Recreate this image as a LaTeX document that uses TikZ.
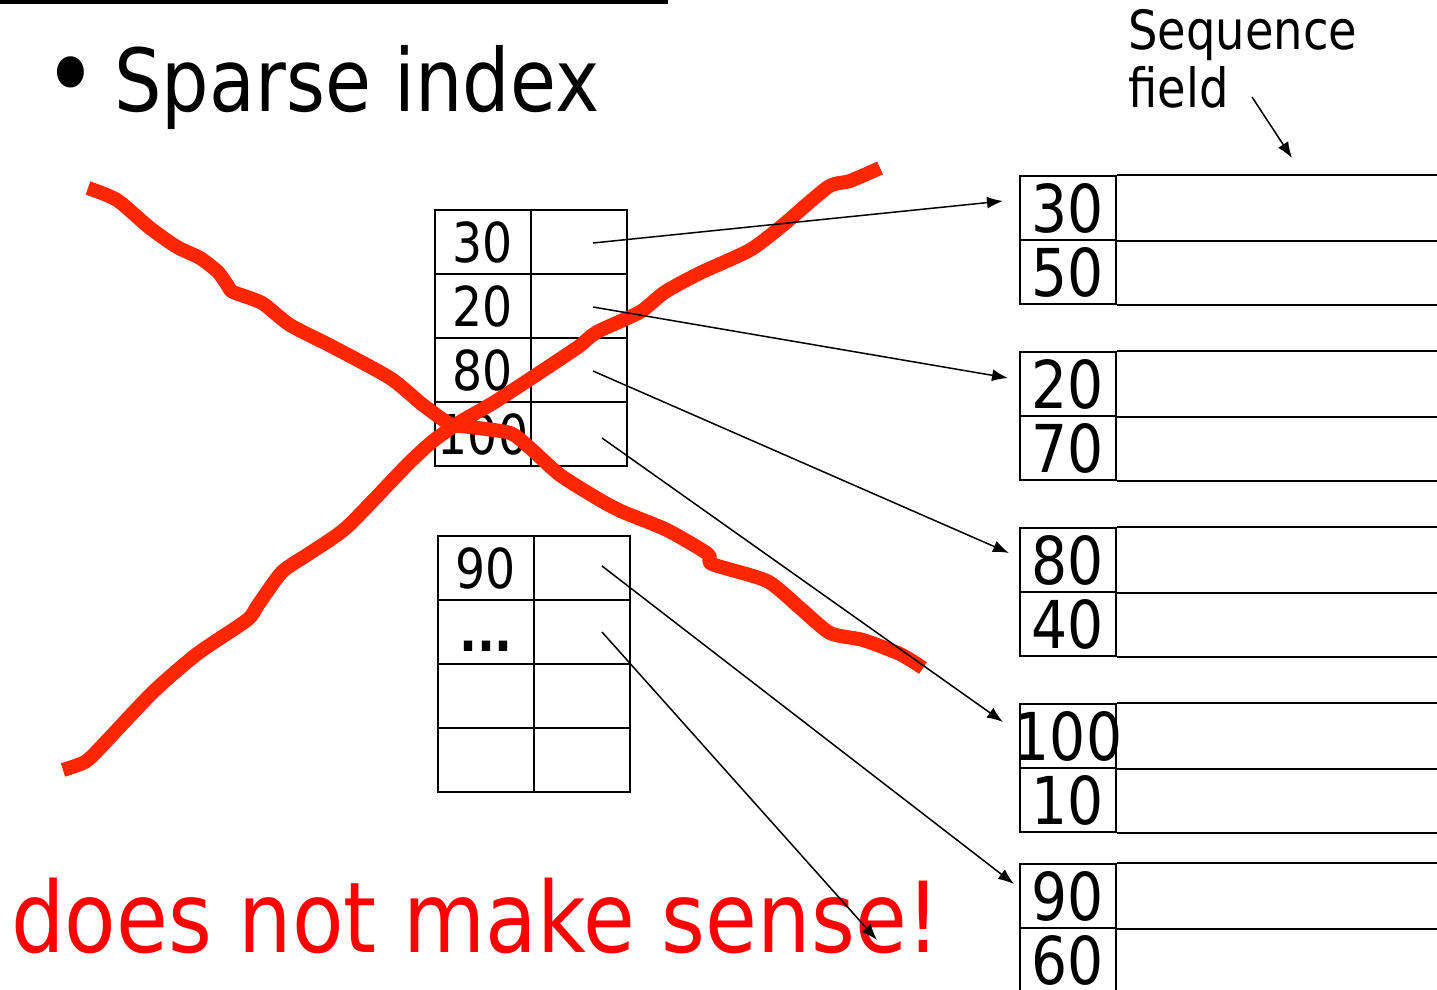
\documentclass[tikz,border=0pt]{standalone}
\usepackage{fontspec}
\setmainfont{DejaVu Sans}[FakeStretch=0.86]
\usetikzlibrary{arrows.meta}
\definecolor{xred}{RGB}{255,38,0}
\definecolor{tred}{RGB}{255,0,0}
\begin{document}
\begin{tikzpicture}[x=0.5pt,y=-0.5pt,
  idx/.style={draw, line width=1pt, minimum width=48pt, minimum height=32pt, inner sep=0pt, font=\fontsize{27.5pt}{30pt}\selectfont},
  dat/.style={draw, line width=1pt, minimum width=48pt, minimum height=32pt, inner sep=0pt, font=\fontsize{33pt}{36pt}\selectfont},
  dattext/.style={inner sep=0pt, font=\fontsize{33pt}{36pt}\selectfont},
  ptr/.style={line width=0.75pt, -{Latex[length=8pt,width=6pt]}},
  cross/.style={xred, line width=7pt, line cap=butt, line join=round},
  rowline/.style={line width=1pt},
  lbl/.style={anchor=base west, inner sep=0pt}
]
\useasboundingbox (0,0) rectangle (1437,990);

% top rule
\draw[line width=2pt] (0,2) -- (668,2);

% title
\node[inner sep=0pt, font=\fontsize{54pt}{56pt}\selectfont] (bul) at (71,85) {\textbullet};
\node[lbl, font=\fontsize{43.5pt}{46pt}\selectfont] (title) at (114,112) {Sparse index};

% sequence field label
\node[lbl, font=\fontsize{27pt}{29pt}\selectfont] (seqA) at (1128,50) {Sequence};
\node[lbl, font=\fontsize{27pt}{29pt}\selectfont] (seqB) at (1128,108) {field};
\coordinate (sfA) at (1252,97);
\coordinate (sfB) at (1292,158);

% index block 1
\node[idx] (i1a) at (483,242) {30};
\node[idx] (i1b) at (483,306) {20};
\node[idx] (i1c) at (483,370) {80};
\node[idx] (i1d) at (483,434) {100};
\node[idx] (r1a) at (579,242) {};
\node[idx] (r1b) at (579,306) {};
\node[idx] (r1c) at (579,370) {};
\node[idx] (r1d) at (579,434) {};

% index block 2
\node[idx] (i2a) at (486,568) {90};
\node[idx] (i2b) at (486,632) {};
\node[lbl, font=\fontsize{27.5pt}{30pt}\selectfont\bfseries, anchor=base] (dots) at (486,651) {...};
\node[idx] (i2c) at (486,696) {};
\node[idx] (i2d) at (486,760) {};
\node[idx] (r2a) at (581.5,568) {};
\node[idx] (r2b) at (581.5,632) {};
\node[idx] (r2c) at (581.5,696) {};
\node[idx] (r2d) at (581.5,760) {};

% data blocks
\node[dat] (d1a) at (1068,208) {30};
\node[dat] (d1b) at (1068,272) {50};
\node[dat] (d2a) at (1068,384) {20};
\node[dat] (d2b) at (1068,448) {70};
\node[dat] (d3a) at (1068,560) {80};
\node[dat] (d3b) at (1068,624) {40};
\node[dat] (d4a) at (1068,736) {};
\node[dattext] (t4a) at (d4a.center) {100};
\node[dat] (d4b) at (1068,800) {10};
\node[dat] (d5a) at (1068,896) {90};
\node[dat] (d5b) at (1068,960) {60};
\foreach \n in {d1a,d2a,d3a,d4a,d5a}{
  \draw[rowline] (\n.north east) -- +(330,0);
  \draw[rowline] (\n.south east) -- +(330,0);
}
\foreach \n in {d1b,d2b,d3b,d4b,d5b}{
  \draw[rowline] (\n.south east) -- +(330,0);
}

% red cross
\draw[cross] plot[smooth, tension=0.4] coordinates {(88,188) (117,200) (150,228) (177,247) (200,258) (218,272) (228,286) (233,292) (262,303) (290,325) (333,347) (390,378) (423,405) (450,424) (470,427) (510,433) (530,448) (560,475) (600,500) (623,512) (667,530) (708,554) (712,564) (767,581) (800,608) (830,633) (863,640) (900,654) (923,668)};
\draw[cross] plot[smooth, tension=0.4] coordinates {(63,770) (85,762) (100,748) (153,692) (197,654) (247,620) (258,605) (282,572) (310,553) (347,527) (407,465) (433,441) (460,422) (493,403) (533,377) (578,347) (597,332) (640,312) (665,292) (700,273) (750,250) (783,225) (828,187) (850,181) (880,168)};

% red message
\node[lbl, text=tred, font=\fontsize{49pt}{51pt}\selectfont] (msg) at (11,952) {does not make sense!};

% pointers
\coordinate (s1) at (593,243);
\coordinate (s2) at (593,307);
\coordinate (s3) at (593,371);
\coordinate (s4) at (602,438);
\coordinate (s5) at (602,566);
\coordinate (s6) at (602,632);
\coordinate (e1) at (1003,201);
\coordinate (e2) at (1008,378);
\coordinate (e3) at (1009,553);
\coordinate (e4) at (1003,722);
\coordinate (e5) at (1014,884);
\coordinate (e6) at (877,940);
\draw[ptr] (s1) -- (e1);
\draw[ptr] (s2) -- (e2);
\draw[ptr] (s3) -- (e3);
\draw[ptr] (s4) -- (e4);
\draw[ptr] (s5) -- (e5);
\draw[ptr] (s6) -- (e6);
\draw[ptr] (sfA) -- (sfB);
\end{tikzpicture}
\end{document}
